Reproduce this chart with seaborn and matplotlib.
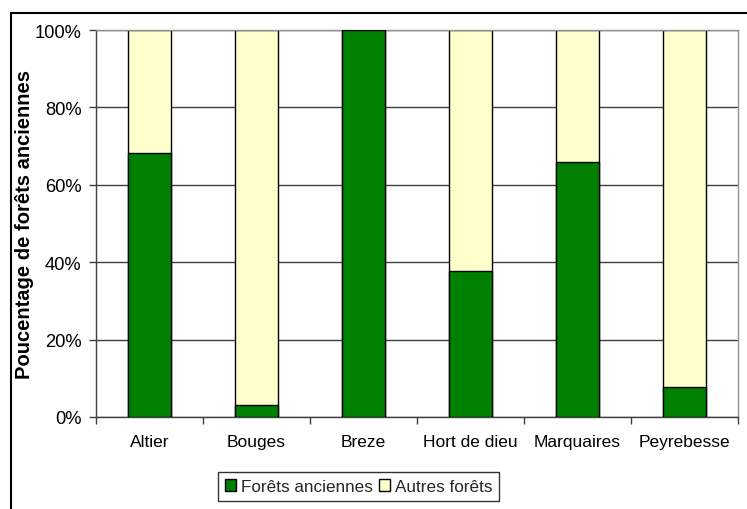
import matplotlib
matplotlib.use("Agg")
import matplotlib.pyplot as plt
from matplotlib.patches import Rectangle, Patch
import seaborn as sns
import pandas as pd

# Sites and share of ancient forest (%)
sites = ["Altier", "Bouges", "Breze", "Hort de dieu", "Marquaires", "Peyrebesse"]
forets_anciennes = [68.2, 3.0, 100.0, 37.6, 66.0, 7.8]
autres_forets = [31.8, 97.0, 0.0, 62.4, 34.0, 92.2]
ytick_values = [0, 20, 40, 60, 80, 100]
ytick_labels = ["0%", "20%", "40%", "60%", "80%", "100%"]

series_names = ["Forêts anciennes", "Autres forêts"]
green = "#008000"
pale = "#FFFFCC"

df = pd.DataFrame({
    "site": sites,
    "anciennes": forets_anciennes,
    "total": [a + b for a, b in zip(forets_anciennes, autres_forets)],
})

sns.set_theme(style="white")
plt.rcParams["font.family"] = ["Liberation Sans", "DejaVu Sans"]

fig = plt.figure(figsize=(7.47, 5.10), dpi=100)
W, H = 747, 510
ax = fig.add_axes([96 / W, 1 - 418 / H, (738 - 96) / W, (418 - 31) / H])

# horizontal grid behind the bars
for v in ytick_values:
    ax.axhline(v, color="#404040", lw=1.0, zorder=0)

# stacked bars: full column in pale yellow, ancient share in green on top of it
sns.barplot(data=df, x="site", y="total", color=pale, width=0.41,
            edgecolor="black", linewidth=1.0, saturation=1, ax=ax, zorder=2)
sns.barplot(data=df, x="site", y="anciennes", color=green, width=0.41,
            edgecolor="black", linewidth=1.0, saturation=1, ax=ax, zorder=3)

ax.set_xlim(-0.5, len(sites) - 0.5)
ax.set_ylim(0, 100)
ax.set_yticks(ytick_values)
ax.set_yticklabels(ytick_labels, fontsize=13.2, color="black")
ax.set_xticks(range(len(sites)))
ax.set_xticklabels(sites, fontsize=12.5, color="black")
ax.set_xticks([i - 0.5 for i in range(len(sites) + 1)], minor=True)
ax.tick_params(axis="x", which="major", length=0, pad=12)
ax.tick_params(axis="x", which="minor", length=5, width=1, color="#404040", bottom=True)
ax.tick_params(axis="y", which="major", length=5, width=1, color="#404040", left=True, pad=5.5)
ax.set_xlabel("")
ax.set_ylabel("Poucentage de forêts anciennes", fontsize=14.5, fontweight="bold",
              color="black")
ax.yaxis.set_label_coords((34 - 96) / 642, 0.5)

for side in ["left", "bottom"]:
    ax.spines[side].set_color("#404040")
    ax.spines[side].set_linewidth(1.0)
for side in ["top", "right"]:
    ax.spines[side].set_color("#909090")
    ax.spines[side].set_linewidth(1.0)
    ax.spines[side].set_visible(True)

handles = [Patch(facecolor=green, edgecolor="black", linewidth=1.0),
           Patch(facecolor=pale, edgecolor="black", linewidth=1.0)]
leg = fig.legend(handles, series_names, loc="center", bbox_to_anchor=(358.5 / W, 1 - 487.5 / H),
                 ncol=2, frameon=True, fancybox=False, shadow=False, fontsize=12.3,
                 handlelength=0.65, handleheight=0.65, handletextpad=0.3,
                 columnspacing=0.35, borderpad=0.4, borderaxespad=0)
leg.get_frame().set_edgecolor("black")
leg.get_frame().set_linewidth(1.0)

# outer chart frame
fig.patches.append(Rectangle((11 / W, -0.02), 1.05, 1 - 13.5 / H + 0.02,
                             transform=fig.transFigure, fill=False,
                             edgecolor="black", linewidth=1.5, zorder=0))

fig.savefig("out.png", dpi=100)
